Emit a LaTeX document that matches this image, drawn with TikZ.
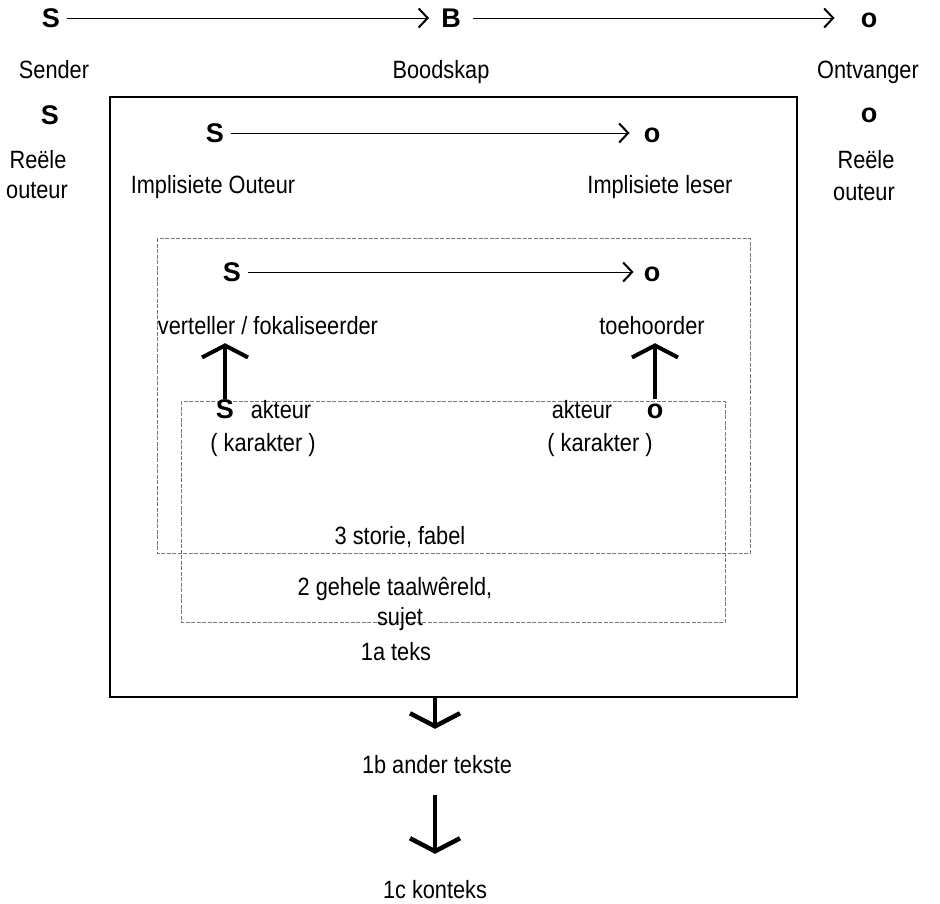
\documentclass[tikz,border=0pt]{standalone}
\usepackage{fontspec}
\setmainfont{Liberation Sans}[FakeStretch=0.87]
\newfontfamily\simfont{Liberation Sans}
\usepackage{tikz}
\usetikzlibrary{arrows.meta, positioning, calc}

\begin{document}
\begin{tikzpicture}[x=1pt, y=-1pt,
  etiket/.style={inner sep=0pt, text height=16pt, text depth=0pt, font=\fontsize{25}{29}\selectfont},
  simbool/.style={inner sep=0pt, text height=19pt, text depth=0pt, font=\fontsize{27}{27}\simfont\bfseries},
  pyl/.style={-{Straight Barb[length=9pt, width=19pt, line width=2pt]}, line width=0.9pt, shorten <=7pt, shorten >=12pt},
  oppyl/.style={-{Straight Barb[length=12pt, width=46pt, line width=4pt]}, line width=3.5pt, shorten >=9pt},
  afpyl/.style={-{Straight Barb[length=13pt, width=50pt, line width=4.5pt]}, line width=4pt, shorten >=28pt},
  stippelraam/.style={draw=stippel, line width=0.8pt, dash pattern=on 4pt off 1.5pt}]
% --- KOMMUNIKASIEMODEL: SENDER, BOODSKAP, ONTVANGER ---
\definecolor{stippel}{HTML}{777777}
\useasboundingbox (0,0) rectangle (940,903);

% LAAG 1: Sender -> Boodskap -> Ontvanger
\node[simbool] (senderS) at (51,18) {S};
\node[simbool] (boodB) at (451,18) {B};
\node[simbool] (ontvO) at (869,18) {o};
\node[etiket] (sender) at (54,70) {Sender};
\node[etiket] (boodskap) at (441,70) {Boodskap};
\node[etiket] (ontvanger) at (868,70) {Ontvanger};
\draw[pyl] (senderS) -- (boodB);
\draw[pyl, shorten <=12pt, shorten >=26pt] (boodB) -- (ontvO);

% LAAG 2: Reele outeur, aan weerskante
\node[simbool] (reeleS) at (50,115) {S};
\node[etiket] (reeleL1) at (38,160) {Reële};
\node[etiket] (reeleL2) at (37,190) {outeur};
\node[simbool] (reeleO) at (869,113) {o};
\node[etiket] (reeleR1) at (866,160) {Reële};
\node[etiket] (reeleR2) at (864,192) {outeur};

% LAAG 3: Teks (buitenste raam)
\node[draw, line width=1.6pt, minimum width=687pt, minimum height=600pt, inner sep=0pt] (teksraam) at (453.5,397) {};
\node[simbool] (implS) at (215,133) {S};
\node[simbool] (implO) at (652,133) {o};
\node[etiket] (implOuteur) at (213,185) {Implisiete Outeur};
\node[etiket] (implLeser) at (660,185) {Implisiete leser};
\draw[pyl, shorten >=14pt] (implS) -- (implO);
\node[etiket] (teks) at (396,652) {1a teks};

% LAAG 4: Taalwereld en storie (stippelrame)
\draw[stippelraam] (157,238) rectangle (750,553);
\draw[stippelraam] (181,401) rectangle (725,622);
\node[simbool] (vertS) at (232,272) {S};
\node[simbool] (vertO) at (652,272) {o};
\draw[pyl, shorten >=10pt] (vertS) -- (vertO);
\node[etiket] (verteller) at (268,326) {verteller / fokaliseerder};
\node[etiket] (toehoorder) at (652,326) {toehoorder};
\node[simbool] (akteurS) at (225,409) {S};
\node[etiket] (akteurL) at (281,410) {akteur};
\node[etiket] (karakterL) at (263,443) {( karakter )};
\node[simbool] (akteurO) at (655,409) {o};
\node[etiket] (akteurR) at (582,410) {akteur};
\node[etiket] (karakterR) at (600,443) {( karakter )};
\draw[oppyl] (akteurS.north) -- (akteurS.north |- verteller.south);
\draw[oppyl] (akteurO.north) -- (akteurO.north |- toehoorder.south);
\node[etiket] (storie) at (400,536) {3 storie, fabel};
\node[etiket] (taalwereld) at (395,587) {2 gehele taalwêreld,};
\node[etiket] (sujet) at (400,617) {sujet};

% LAAG 5: Ander tekste en konteks
\node[etiket] (ander) at (437,765) {1b ander tekste};
\node[etiket] (konteks) at (435,890) {1c konteks};
\coordinate (uit) at (teksraam.south -| 435,0);
\draw[afpyl] (uit) -- (uit |- ander.north);
\draw[afpyl, shorten <=22pt] (uit |- ander.south) -- (uit |- konteks.north);
\end{tikzpicture}
\end{document}
